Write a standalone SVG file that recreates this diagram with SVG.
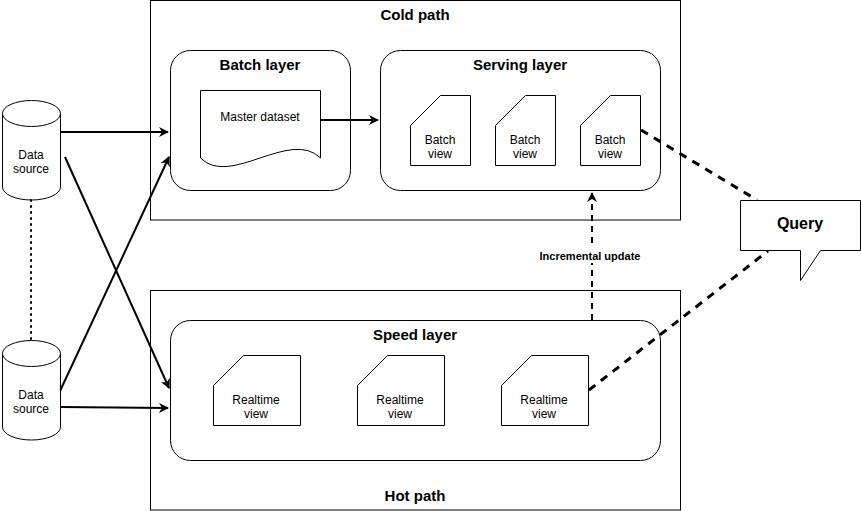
<svg xmlns="http://www.w3.org/2000/svg" width="861" height="511" viewBox="0 0 861 511">
<style>
.box{fill:#fff;stroke:#000;stroke-width:1}
.t{font-family:"Liberation Sans",Arial,sans-serif;fill:#000;text-anchor:middle}
.title{font-size:15px;font-weight:bold}
.small{font-size:12px}
.conn{fill:none;stroke:#000;stroke-width:2}
.dash{fill:none;stroke:#000;stroke-width:3;stroke-dasharray:8 7}
</style>
<defs>
<marker id="ah" viewBox="0 0 10 10" refX="9" refY="5" markerWidth="5" markerHeight="5" orient="auto" markerUnits="strokeWidth">
<path d="M0,0 L10,5 L0,10 L3,5 Z" fill="#000"/>
</marker>
</defs>
<rect width="861" height="511" fill="#fff"/>
<g id="cold-path">
<rect class="box" x="150.5" y="0.5" width="530" height="219.5"/>
<text class="t title" x="415" y="20">Cold path</text>
</g>
<g id="hot-path">
<rect class="box" x="150.5" y="290.5" width="530" height="219.5"/>
<text class="t title" x="415" y="501">Hot path</text>
</g>
<g id="batch-layer">
<rect class="box" x="170.5" y="50.5" width="180" height="140" rx="20"/>
<text class="t title" x="260" y="70">Batch layer</text>
</g>
<g id="master-dataset">
<path class="box" d="M200.5,90.5 H320.5 V158 C290,128 230,188 200.5,158 Z"/>
<text class="t small" x="260" y="121">Master dataset</text>
</g>
<g id="serving-layer">
<rect class="box" x="380.5" y="50.5" width="280" height="140" rx="20"/>
<text class="t title" x="520" y="70">Serving layer</text>
</g>
<g id="batch-view-1">
<path class="box" d="M440.5,95.5 H470.5 V165.5 H410.5 V125.5 Z"/>
<text class="t small" x="440" y="144">Batch</text>
<text class="t small" x="440" y="158">view</text>
</g>
<g id="batch-view-2">
<path class="box" d="M525.5,95.5 H555.5 V165.5 H495.5 V125.5 Z"/>
<text class="t small" x="525" y="144">Batch</text>
<text class="t small" x="525" y="158">view</text>
</g>
<g id="batch-view-3">
<path class="box" d="M610.5,95.5 H640.5 V165.5 H580.5 V125.5 Z"/>
<text class="t small" x="610" y="144">Batch</text>
<text class="t small" x="610" y="158">view</text>
</g>
<g id="speed-layer">
<rect class="box" x="170.5" y="320.5" width="490" height="140" rx="20"/>
<text class="t title" x="415" y="340">Speed layer</text>
</g>
<g id="realtime-view-1">
<path class="box" d="M243.5,355.5 H300.5 V425.5 H213.5 V385.5 Z"/>
<text class="t small" x="256" y="404">Realtime</text>
<text class="t small" x="256" y="418">view</text>
</g>
<g id="realtime-view-2">
<path class="box" d="M387.5,355.5 H444.5 V425.5 H357.5 V385.5 Z"/>
<text class="t small" x="400" y="404">Realtime</text>
<text class="t small" x="400" y="418">view</text>
</g>
<g id="realtime-view-3">
<path class="box" d="M531.5,355.5 H588.5 V425.5 H501.5 V385.5 Z"/>
<text class="t small" x="544" y="404">Realtime</text>
<text class="t small" x="544" y="418">view</text>
</g>
<g id="data-source-1">
<path class="box" d="M2.5,113.5 A29,13 0 0 1 60.5,113.5 V187 A29,13 0 0 1 2.5,187 Z"/>
<path class="box" style="fill:none" d="M2.5,113.5 A29,13 0 0 0 60.5,113.5"/>
<text class="t small" x="31" y="159">Data</text>
<text class="t small" x="31" y="173">source</text>
</g>
<g id="data-source-2">
<path class="box" d="M2.5,353.5 A29,13 0 0 1 60.5,353.5 V427 A29,13 0 0 1 2.5,427 Z"/>
<path class="box" style="fill:none" d="M2.5,353.5 A29,13 0 0 0 60.5,353.5"/>
<text class="t small" x="31" y="399">Data</text>
<text class="t small" x="31" y="413">source</text>
</g>
<g id="query">
<path class="box" d="M740.5,200.5 H860.5 V250.5 H820.5 L800.5,280.5 V250.5 H740.5 Z"/>
<text class="t" style="font-size:16px;font-weight:bold" x="800" y="229">Query</text>
</g>
<g id="connectors">
<path d="M31,200 V340" fill="none" stroke="#000" stroke-width="2" stroke-dasharray="1 5" stroke-linecap="round"/>
<path class="conn" d="M60.5,132 H168" marker-end="url(#ah)"/>
<path class="conn" d="M65,157 L169,388" marker-end="url(#ah)"/>
<path class="conn" d="M60.5,390 L169,157" marker-end="url(#ah)"/>
<path class="conn" d="M60.5,407 L168,408" marker-end="url(#ah)"/>
<path class="conn" d="M320.5,120 H378" marker-end="url(#ah)"/>
<path class="conn" d="M592,320 V193" stroke-dasharray="6 5" marker-end="url(#ah)"/>
<rect x="538" y="248" width="104" height="15" fill="#fff"/>
<text class="t" style="font-size:11px;font-weight:bold" x="590" y="260">Incremental update</text>
<path class="dash" d="M641,130 L757,200"/>
<path class="dash" d="M589,390 L768,251"/>
</g>
</svg>
